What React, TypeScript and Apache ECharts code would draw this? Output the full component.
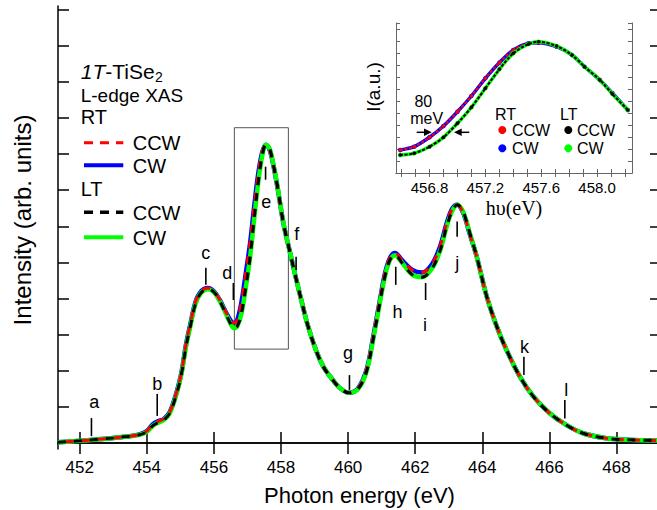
import React, { useEffect, useRef } from 'react';
import * as echarts from 'echarts';

// ---- main spectrum (photon energy in eV, intensity in arb. units) ----
const energy = [451.35, 452.0, 452.5, 453.0, 453.4, 453.75, 454.0, 454.18, 454.33, 454.5, 454.68, 454.88, 455.03, 455.17, 455.3, 455.45, 455.62, 455.82, 456.0, 456.17, 456.37, 456.52, 456.6, 456.7, 456.82, 456.95, 457.08, 457.2, 457.32, 457.44, 457.55, 457.66, 457.78, 457.9, 458.07, 458.25, 458.45, 458.62, 458.8, 459.05, 459.27, 459.5, 459.76, 460.03, 460.3, 460.55, 460.75, 460.95, 461.1, 461.25, 461.4, 461.6, 461.9, 462.2, 462.5, 462.74, 462.94, 463.1, 463.25, 463.43, 463.63, 463.83, 464.13, 464.43, 464.72, 465.12, 465.52, 466.0, 466.5, 467.0, 467.7, 468.3, 469.33];
const rtIntensity = [0.02, 0.06, 0.10, 0.14, 0.18, 0.23, 0.33, 0.52, 0.60, 0.66, 0.85, 1.38, 1.94, 2.74, 3.30, 3.90, 4.20, 4.29, 4.20, 3.97, 3.60, 3.36, 3.32, 3.42, 3.90, 4.70, 5.55, 6.55, 7.45, 8.05, 8.26, 8.12, 7.65, 7.05, 6.09, 5.35, 4.55, 3.90, 3.25, 2.55, 2.10, 1.80, 1.52, 1.39, 1.52, 2.03, 2.95, 3.97, 4.70, 5.13, 5.26, 5.07, 4.80, 4.72, 4.95, 5.44, 6.09, 6.48, 6.60, 6.37, 5.77, 5.17, 4.06, 3.23, 2.58, 1.84, 1.29, 0.83, 0.50, 0.27, 0.13, 0.09, 0.07];
const ltIntensity = [0.02, 0.06, 0.10, 0.14, 0.18, 0.22, 0.31, 0.48, 0.56, 0.63, 0.82, 1.34, 1.90, 2.68, 3.24, 3.85, 4.16, 4.26, 4.18, 3.94, 3.55, 3.26, 3.18, 3.24, 3.58, 4.30, 5.15, 6.20, 7.20, 7.95, 8.26, 8.15, 7.68, 7.08, 6.10, 5.35, 4.55, 3.90, 3.25, 2.55, 2.10, 1.80, 1.52, 1.39, 1.50, 1.98, 2.88, 3.90, 4.62, 5.07, 5.20, 5.00, 4.67, 4.59, 4.83, 5.32, 6.00, 6.42, 6.60, 6.40, 5.80, 5.17, 4.06, 3.23, 2.58, 1.84, 1.29, 0.83, 0.50, 0.27, 0.13, 0.09, 0.07];
const xTickValues = [452, 454, 456, 458, 460, 462, 464, 466, 468];
const yTickValues = [0, 1, 2, 3, 4, 5, 6, 7, 8, 9, 10, 11, 12];

// ---- feature markers a..l ----
const featureLabels = ['a', 'b', 'c', 'd', 'e', 'f', 'g', 'h', 'i', 'j', 'k', 'l'];
const featureEnergy = [452.35, 454.31, 455.76, 456.58, 457.54, 458.45, 460.04, 461.42, 462.31, 463.25, 465.24, 466.46];
const featureTickLow = [0.19, 0.75, 4.38, 3.96, 7.29, 4.79, 1.47, 4.38, 3.96, 5.71, 1.88, 0.68];
const featureTickHigh = [0.69, 1.36, 4.85, 4.43, 7.65, 5.16, 1.88, 4.88, 4.43, 6.13, 2.39, 1.19];
const featureLabelEnergy = [452.43, 454.31, 455.76, 456.4, 457.56, 458.47, 460.0, 461.47, 462.29, 463.25, 465.26, 466.5];
const featureLabelLevel = [1.14, 1.63, 5.25, 4.71, 6.68, 5.78, 2.48, 3.64, 3.27, 4.98, 2.67, 1.47];

// zoom box (energy range, intensity range)
const boxEnergy = [456.61, 458.22];
const boxIntensity = [2.6, 8.73];

// ---- inset: zoom of the e peak ----
const insetEnergy = [456.59, 456.69, 456.8, 456.9, 457.0, 457.1, 457.2, 457.3, 457.4, 457.51, 457.58, 457.71, 457.82, 457.91, 458.02, 458.11, 458.22];
const insetRT = [23, 26.3, 35.7, 47, 61.3, 77, 94.7, 110.3, 123, 129.7, 130.3, 126.3, 118, 106.3, 93, 79.7, 63];
const insetLT = [18, 19.7, 26.3, 35.7, 49.7, 65.7, 84.7, 103.7, 119.7, 129, 131.3, 127, 118, 106.3, 93, 79, 63];
const insetXTicks = [456.6, 456.7, 456.8, 456.9, 457.0, 457.1, 457.2, 457.3, 457.4, 457.5, 457.6, 457.7, 457.8, 457.9, 458.0, 458.1, 458.2];
const insetXLabels = [456.8, 457.2, 457.6, 458.0];

const FONT = 'Liberation Sans, Arial, Helvetica, sans-serif';

function measure(text: string, font: string): number {
  const c = document.createElement('canvas').getContext('2d');
  if (!c) return text.length * 10;
  c.font = font;
  return c.measureText(text).width;
}

export default function App() {
  const ref = useRef<HTMLDivElement>(null);
  useEffect(() => {
    if (!ref.current) return;
    const chart = echarts.init(ref.current, null, { renderer: 'svg' });
    const mainPts = (ys: number[]) => energy.map((e, i) => [e, ys[i]]);
    const insetPts = (ys: number[]) => insetEnergy.map((e, i) => [e, ys[i]]);
    const axisBlack = { lineStyle: { color: '#000', width: 1.5 } };
    const mainTickX = { show: true, inside: true, length: 11, customValues: xTickValues, lineStyle: { color: '#000', width: 1.5 } };
    const mainTickY = { show: true, inside: true, length: 11, customValues: yTickValues, lineStyle: { color: '#000', width: 1.5 } };
    const insetLine = { lineStyle: { color: '#666', width: 1 } };
    const insetTickX = { show: true, inside: true, length: 4, customValues: insetXTicks, lineStyle: { color: '#666', width: 1 } };
    const insetTickY = { show: true, inside: true, length: 4, lineStyle: { color: '#666', width: 1 } };

    const fItal = `italic 21px ${FONT}`;
    const fNorm = `21px ${FONT}`;
    const w1 = measure('1T', fItal);
    const w2 = measure('-TiSe', fNorm);
    const tx = 80.7;

    const option: any = {
      animation: false,
      backgroundColor: '#fff',
      textStyle: { fontFamily: FONT },
      grid: [
        { left: 58, top: 6, width: 603, height: 443, containLabel: false, outerBoundsMode: 'none' },
        { left: 396, top: 23, width: 236, height: 150, containLabel: false, outerBoundsMode: 'none', show: true, backgroundColor: '#fff', borderWidth: 0 },
      ],
      xAxis: [
        {
          type: 'value', gridIndex: 0, position: 'bottom', min: 451.353, max: 469.326,
          axisLine: axisBlack, axisTick: mainTickX, splitLine: { show: false },
          axisLabel: { customValues: xTickValues, color: '#000', fontSize: 17, fontFamily: FONT, margin: 10 },
          name: 'Photon energy (eV)', nameLocation: 'middle', nameGap: 35,
          nameTextStyle: { color: '#000', fontSize: 22, fontFamily: FONT },
        },
        {
          type: 'value', gridIndex: 0, position: 'top', min: 451.353, max: 469.326,
          axisLine: axisBlack, axisTick: mainTickX, splitLine: { show: false }, axisLabel: { show: false },
        },
        {
          type: 'value', gridIndex: 1, position: 'bottom', min: 456.56, max: 458.25,
          axisLine: insetLine, axisTick: insetTickX, splitLine: { show: false },
          axisLabel: { customValues: insetXLabels, color: '#000', fontSize: 15, fontFamily: FONT, margin: 7, formatter: (v: number) => v.toFixed(1) },
          name: 'hυ(eV)', nameLocation: 'middle', nameGap: 25,
          nameTextStyle: { color: '#000', fontSize: 20, fontFamily: 'Liberation Serif, Times New Roman, serif' },
        },
        {
          type: 'value', gridIndex: 1, position: 'top', min: 456.56, max: 458.25,
          axisLine: insetLine, axisTick: insetTickX, splitLine: { show: false }, axisLabel: { show: false },
        },
      ],
      yAxis: [
        {
          type: 'value', gridIndex: 0, position: 'left', min: -0.166, max: 12.1,
          axisLine: { show: true, ...axisBlack }, axisTick: mainTickY, splitLine: { show: false }, axisLabel: { show: false },
        },
        {
          type: 'value', gridIndex: 0, position: 'right', min: -0.166, max: 12.1,
          axisLine: { show: true, ...axisBlack }, axisTick: mainTickY, splitLine: { show: false }, axisLabel: { show: false },
        },
        {
          type: 'value', gridIndex: 1, position: 'left', min: 0, max: 150, interval: 12,
          axisLine: { show: true, ...insetLine }, axisTick: insetTickY, splitLine: { show: false }, axisLabel: { show: false },
        },
        {
          type: 'value', gridIndex: 1, position: 'right', min: 0, max: 150, interval: 12,
          axisLine: { show: true, ...insetLine }, axisTick: insetTickY, splitLine: { show: false }, axisLabel: { show: false },
        },
      ],
      series: [
        {
          name: 'RT CW', type: 'line', xAxisIndex: 0, yAxisIndex: 0, data: mainPts(rtIntensity),
          showSymbol: false, smooth: 0.35, lineStyle: { color: '#0000ff', width: 4.5 }, z: 2,
          markArea: {
            silent: true,
            itemStyle: { color: 'rgba(0,0,0,0)', borderColor: '#555', borderWidth: 1 },
            data: [[{ xAxis: boxEnergy[0], yAxis: boxIntensity[0] }, { xAxis: boxEnergy[1], yAxis: boxIntensity[1] }]],
          },
        },
        {
          name: 'LT CW', type: 'line', xAxisIndex: 0, yAxisIndex: 0, data: mainPts(ltIntensity),
          showSymbol: false, smooth: 0.35, lineStyle: { color: '#00ff00', width: 4.5 }, z: 3,
        },
        {
          name: 'RT CCW', type: 'line', xAxisIndex: 0, yAxisIndex: 0, data: mainPts(rtIntensity),
          showSymbol: false, smooth: 0.35, lineStyle: { color: '#ff0000', width: 3, type: [8, 8], dashOffset: 8 }, z: 4,
        },
        {
          name: 'LT CCW', type: 'line', xAxisIndex: 0, yAxisIndex: 0, data: mainPts(ltIntensity),
          showSymbol: false, smooth: 0.35, lineStyle: { color: '#000000', width: 3, type: [8, 8] }, z: 5,
        },
        {
          type: 'custom', xAxisIndex: 0, yAxisIndex: 0, clip: false, silent: true, z: 6,
          data: featureLabels.map((_, i) => [featureEnergy[i], featureTickLow[i], featureTickHigh[i], featureLabelEnergy[i], featureLabelLevel[i]]),
          renderItem: (params: any, api: any) => {
            const lo = api.coord([api.value(0), api.value(1)]);
            const hi = api.coord([api.value(0), api.value(2)]);
            const lb = api.coord([api.value(3), api.value(4)]);
            return {
              type: 'group',
              children: [
                { type: 'line', shape: { x1: lo[0], y1: lo[1], x2: hi[0], y2: hi[1] }, style: { stroke: '#000', lineWidth: 1.6 } },
                {
                  type: 'text',
                  style: {
                    text: featureLabels[params.dataIndex], x: lb[0], y: lb[1], fill: '#000',
                    font: `18px ${FONT}`, align: 'center', verticalAlign: 'middle', textAlign: 'center', textVerticalAlign: 'middle',
                  },
                },
              ],
            };
          },
        },
        // inset
        {
          name: 'inset RT CW', type: 'line', xAxisIndex: 2, yAxisIndex: 2, data: insetPts(insetRT), smooth: 0.3,
          showSymbol: true, symbol: 'circle', symbolSize: 4.5, itemStyle: { color: '#0000ff' }, lineStyle: { color: '#0000ff', width: 3.5 }, z: 10,
        },
        {
          name: 'inset RT CCW', type: 'line', xAxisIndex: 2, yAxisIndex: 2, data: insetPts(insetRT), smooth: 0.3,
          showSymbol: true, symbol: 'circle', symbolSize: 3.5, itemStyle: { color: '#ff0000' }, lineStyle: { color: '#ff0000', width: 2, type: [3, 1.5] }, z: 11,
        },
        {
          name: 'inset LT CW', type: 'line', xAxisIndex: 2, yAxisIndex: 2, data: insetPts(insetLT), smooth: 0.3,
          showSymbol: true, symbol: 'circle', symbolSize: 4.5, itemStyle: { color: '#00ff00' }, lineStyle: { color: '#00ff00', width: 3.5 }, z: 12,
        },
        {
          name: 'inset LT CCW', type: 'line', xAxisIndex: 2, yAxisIndex: 2, data: insetPts(insetLT), smooth: 0.3,
          showSymbol: true, symbol: 'circle', symbolSize: 3.5, itemStyle: { color: '#000000' }, lineStyle: { color: '#000000', width: 2, type: [3, 1.5] }, z: 13,
        },
      ],
      graphic: [
        {
          type: 'text', x: 22.5, y: 220, rotation: Math.PI / 2, z: 100,
          style: { text: 'Intensity (arb. units)', fill: '#000', font: `24px ${FONT}`, align: 'center', verticalAlign: 'middle', textAlign: 'center', textVerticalAlign: 'middle' },
        },
        {
          type: 'text', x: 373, y: 87, rotation: Math.PI / 2, z: 100,
          style: { text: 'I(a.u.)', fill: '#000', font: `19px ${FONT}`, align: 'center', verticalAlign: 'middle', textAlign: 'center', textVerticalAlign: 'middle' },
        },
        // main legend
        { type: 'text', x: tx, y: 71, z: 100, style: { text: '1T', fill: '#000', font: fItal, verticalAlign: 'middle', textVerticalAlign: 'middle' } },
        { type: 'text', x: tx + w1, y: 71, z: 100, style: { text: '-TiSe', fill: '#000', font: fNorm, verticalAlign: 'middle', textVerticalAlign: 'middle' } },
        { type: 'text', x: tx + w1 + w2 + 0.5, y: 77, z: 100, style: { text: '2', fill: '#000', font: `14px ${FONT}`, verticalAlign: 'middle', textVerticalAlign: 'middle' } },
        { type: 'text', x: tx, y: 95, z: 100, style: { text: 'L-edge XAS', fill: '#000', font: `19px ${FONT}`, verticalAlign: 'middle', textVerticalAlign: 'middle' } },
        { type: 'text', x: tx, y: 117, z: 100, style: { text: 'RT', fill: '#000', font: `20px ${FONT}`, verticalAlign: 'middle', textVerticalAlign: 'middle' } },
        { type: 'line', z: 100, shape: { x1: 84, y1: 142.7, x2: 123.3, y2: 142.7 }, style: { stroke: '#ff0000', lineWidth: 3, lineDash: [9, 7] } },
        { type: 'text', x: 132.7, y: 143, z: 100, style: { text: 'CCW', fill: '#000', font: `20px ${FONT}`, verticalAlign: 'middle', textVerticalAlign: 'middle' } },
        { type: 'line', z: 100, shape: { x1: 84, y1: 165.3, x2: 123.3, y2: 165.3 }, style: { stroke: '#0000ff', lineWidth: 4 } },
        { type: 'text', x: 132.7, y: 165.5, z: 100, style: { text: 'CW', fill: '#000', font: `20px ${FONT}`, verticalAlign: 'middle', textVerticalAlign: 'middle' } },
        { type: 'text', x: tx, y: 189, z: 100, style: { text: 'LT', fill: '#000', font: `20px ${FONT}`, verticalAlign: 'middle', textVerticalAlign: 'middle' } },
        { type: 'line', z: 100, shape: { x1: 84, y1: 212.3, x2: 123.3, y2: 212.3 }, style: { stroke: '#000000', lineWidth: 3.5, lineDash: [9, 7] } },
        { type: 'text', x: 132.7, y: 212.5, z: 100, style: { text: 'CCW', fill: '#000', font: `20px ${FONT}`, verticalAlign: 'middle', textVerticalAlign: 'middle' } },
        { type: 'line', z: 100, shape: { x1: 84, y1: 237.3, x2: 123.3, y2: 237.3 }, style: { stroke: '#00ff00', lineWidth: 4 } },
        { type: 'text', x: 132.7, y: 237.5, z: 100, style: { text: 'CW', fill: '#000', font: `20px ${FONT}`, verticalAlign: 'middle', textVerticalAlign: 'middle' } },
        // inset legend
        { type: 'text', x: 495, y: 114, z: 100, style: { text: 'RT', fill: '#000', font: `16px ${FONT}`, verticalAlign: 'middle', textVerticalAlign: 'middle' } },
        { type: 'text', x: 560, y: 114, z: 100, style: { text: 'LT', fill: '#000', font: `16px ${FONT}`, verticalAlign: 'middle', textVerticalAlign: 'middle' } },
        { type: 'circle', z: 100, shape: { cx: 502.3, cy: 130, r: 4 }, style: { fill: '#ff0000' } },
        { type: 'text', x: 512, y: 130.5, z: 100, style: { text: 'CCW', fill: '#000', font: `16px ${FONT}`, verticalAlign: 'middle', textVerticalAlign: 'middle' } },
        { type: 'circle', z: 100, shape: { cx: 568.3, cy: 130, r: 4 }, style: { fill: '#000000' } },
        { type: 'text', x: 577, y: 130.5, z: 100, style: { text: 'CCW', fill: '#000', font: `16px ${FONT}`, verticalAlign: 'middle', textVerticalAlign: 'middle' } },
        { type: 'circle', z: 100, shape: { cx: 502.3, cy: 148.3, r: 4 }, style: { fill: '#0000ff' } },
        { type: 'text', x: 512, y: 148.8, z: 100, style: { text: 'CW', fill: '#000', font: `16px ${FONT}`, verticalAlign: 'middle', textVerticalAlign: 'middle' } },
        { type: 'circle', z: 100, shape: { cx: 568.3, cy: 148.3, r: 4 }, style: { fill: '#00ff00' } },
        { type: 'text', x: 577, y: 148.8, z: 100, style: { text: 'CW', fill: '#000', font: `16px ${FONT}`, verticalAlign: 'middle', textVerticalAlign: 'middle' } },
        // 80 meV annotation
        { type: 'text', x: 423.3, y: 101.7, z: 100, style: { text: '80', fill: '#000', font: `16px ${FONT}`, align: 'center', verticalAlign: 'middle', textAlign: 'center', textVerticalAlign: 'middle' } },
        { type: 'text', x: 426.7, y: 118.3, z: 100, style: { text: 'meV', fill: '#000', font: `16px ${FONT}`, align: 'center', verticalAlign: 'middle', textAlign: 'center', textVerticalAlign: 'middle' } },
        { type: 'line', z: 100, shape: { x1: 416.7, y1: 132.3, x2: 426, y2: 132.3 }, style: { stroke: '#000', lineWidth: 1.5 } },
        { type: 'polygon', z: 100, shape: { points: [[431.7, 132.3], [424, 128.6], [424, 136]] }, style: { fill: '#000' } },
        { type: 'line', z: 100, shape: { x1: 460, y1: 132.3, x2: 469.3, y2: 132.3 }, style: { stroke: '#000', lineWidth: 1.5 } },
        { type: 'polygon', z: 100, shape: { points: [[454, 132.3], [461.7, 128.6], [461.7, 136]] }, style: { fill: '#000' } },
      ],
    };
    chart.setOption(option);
    return () => chart.dispose();
  }, []);
  return <div ref={ref} style={{ position: 'fixed', left: 0, top: 0, width: 657, height: 510 }} />;
}
